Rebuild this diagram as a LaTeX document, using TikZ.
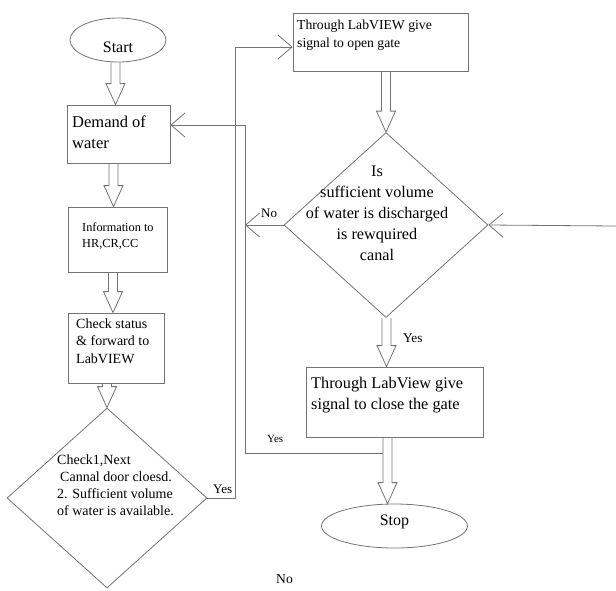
\documentclass[tikz,border=0pt]{standalone}
\usepackage{fontspec}
\setmainfont{Liberation Serif}
\usetikzlibrary{shapes.geometric,arrows.meta,calc}

% hollow block arrow, straight down to the x of the second point
\newcommand{\hollowarrow}[2]{%
  \draw[flowline] let \p1=#1, \p2=#2 in
    (\x2-4.5pt,\y1) -- (\x2-4.5pt,\y2+21pt) -- (\x2-9.5pt,\y2+21pt) -- (\x2,\y2)
    -- (\x2+9.5pt,\y2+21pt) -- (\x2+4.5pt,\y2+21pt) -- (\x2+4.5pt,\y1);
}

\begin{document}
\begin{tikzpicture}[x=1pt, y=-1pt,
    flowline/.style={draw=black!55, line width=0.8pt},
    flowarrow/.style={flowline, -{Straight Barb[length=14pt,width=24pt]}},
    box/.style={flowline, rectangle, inner sep=0pt},
    terminal/.style={flowline, ellipse, inner sep=0pt, font=\fontsize{16}{19}\selectfont},
    decision/.style={flowline, diamond, inner sep=0pt},
    txt/.style={inner sep=0pt, anchor=base west, align=left}]
  \useasboundingbox (0,0) rectangle (616,590);

  % Start and stop
  \node[terminal, minimum width=96, minimum height=44, text height=24pt, text depth=0pt] (start) at (118,40) {Start};
  \node[terminal, minimum width=146, minimum height=44, text height=6pt, text depth=8pt] (stop) at (394.5,526) {Stop};

  % Boxes
  \node[box, minimum width=103, minimum height=58] (demand) at (118.5,134) {};
  \node[box, minimum width=99, minimum height=65] (info) at (117.5,239.5) {};
  \node[box, minimum width=96, minimum height=70] (check) at (116,348) {};
  \node[box, minimum width=175, minimum height=58] (opengate) at (380.5,42) {};
  \node[box, minimum width=177, minimum height=70] (closegate) at (394.5,402) {};

  % Decisions
  \node[decision, minimum width=200, minimum height=180] (check1) at (107,498) {};
  \node[decision, minimum width=204, minimum height=185] (decide) at (386,225) {};

  % Texts (placed at the baseline of their last line)
  \node[txt, font=\fontsize{16.5}{20.5}\selectfont] (demandtext) at (72,148) {Demand of\\water};
  \node[txt, font=\fontsize{12.3}{16}\selectfont] (infotext) at (82,247) {Information to\\HR,CR,CC};
  \node[txt, font=\fontsize{14}{17.5}\selectfont] (checktext) at (76,363) {Check status\\\& forward to\\LabVIEW};
  \node[txt, font=\fontsize{14}{17}\selectfont] (check1text) at (57,515)
    {Check1,Next\\\hspace{3pt}Cannal door cloesd.\\2. Sufficient volume\\of water is available.};
  \node[txt, font=\fontsize{13.7}{18}\selectfont] (opengatetext) at (297,47) {Through LabVIEW give\\signal to open gate};
  \node[txt, font=\fontsize{16.2}{20.8}\selectfont, anchor=base, align=center] (decidetext) at (377,260)
    {Is\\sufficient volume\\of water is discharged\\is rewquired\\canal};
  \node[txt, font=\fontsize{16.3}{21}\selectfont] (closegatetext) at (311,409) {Through LabView give\\signal to close the gate};

  % Yes / No
  \node[txt, font=\fontsize{13}{15}\selectfont] (yes1) at (213,493) {Yes};
  \node[txt, font=\fontsize{13.3}{15}\selectfont] (yes2) at (403,342) {Yes};
  \node[txt, font=\fontsize{11}{13}\selectfont] (yes3) at (267,442) {Yes};
  \node[txt, font=\fontsize{13}{15}\selectfont] (no1) at (261,217) {No};
  \node[txt, font=\fontsize{13.6}{15}\selectfont] (no2) at (276,583) {No};

  % Hollow arrows
  \hollowarrow{(start.south)}{([xshift=-3pt]demand.north)}
  \hollowarrow{(demand.south)}{([xshift=-4pt]info.north)}
  \hollowarrow{(info.south)}{([xshift=-3pt]check.north)}
  \hollowarrow{(check.south)}{(check1.north)}
  \hollowarrow{(opengate.south)}{(decide.north)}
  \hollowarrow{(decide.south)}{([xshift=-8pt]closegate.north)}
  \hollowarrow{(closegate.south)}{([xshift=-7pt]stop.north)}

  % Line connectors
  \coordinate (loop) at (235,47);
  \coordinate (bus) at (245,125);
  \coordinate (merge) at (383,453);
  \coordinate (rightin) at (616,226);
  \draw[flowarrow] (check1.east) -| (loop) -- (loop -| opengate.west);
  \draw[flowarrow] (merge) -| (bus) -- (bus -| demand.east);
  \draw[flowarrow] (decide.west) -- (decide.west -| bus);
  \draw[flowarrow] (rightin) -- (decide.east);
\end{tikzpicture}
\end{document}
